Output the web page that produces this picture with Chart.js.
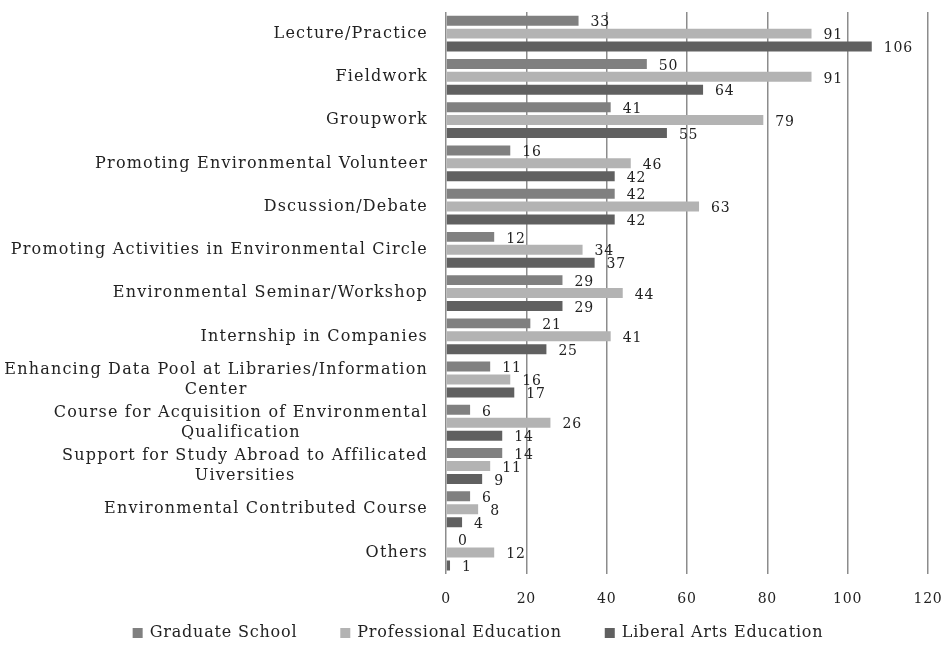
<!DOCTYPE html>
<html>
<head>
<meta charset="utf-8">
<script src="https://cdn.jsdelivr.net/npm/chart.js@4/dist/chart.umd.min.js"></script>
<style>
  html, body { margin: 0; padding: 0; background: #fff; }
</style>
</head>
<body>
<canvas id="chart" width="944" height="646"></canvas>
<script>
// Categories (multi-line labels as arrays)
var categorias = [
  "Lecture/Practice",
  "Fieldwork",
  "Groupwork",
  "Promoting Environmental Volunteer",
  "Dscussion/Debate",
  "Promoting Activities in Environmental Circle",
  "Environmental Seminar/Workshop",
  "Internship in Companies",
  ["Enhancing Data Pool at Libraries/Information", "Center"],
  ["Course for Acquisition of Environmental", "Qualification"],
  ["Support for Study Abroad to Affilicated", "Uiversities"],
  "Environmental Contributed Course",
  "Others"
];

// Series values
var graduateSchool = [33, 50, 41, 16, 42, 12, 29, 21, 11, 6, 14, 6, 0];
var professionalEducation = [91, 91, 79, 46, 63, 34, 44, 41, 16, 26, 11, 8, 12];
var liberalArtsEducation = [106, 64, 55, 42, 42, 37, 29, 25, 17, 14, 9, 4, 1];

// Axis ticks
var ticksX = [0, 20, 40, 60, 80, 100, 120];

var fuente = "'DejaVu Serif', 'Liberation Serif', serif";
var colorTexto = "#222";
var espaciado = "0.8px";

// Plugin: letter spacing for all canvas text (Century-like wide look)
var espaciadoLetras = {
  id: "espaciadoLetras",
  beforeUpdate: function (chart) { chart.ctx.letterSpacing = espaciado; },
  beforeLayout: function (chart) { chart.ctx.letterSpacing = espaciado; },
  beforeDraw: function (chart) { chart.ctx.letterSpacing = espaciado; }
};

// Plugin: category labels (right-aligned block, centered lines)
var etiquetasY = {
  id: "etiquetasY",
  afterDraw: function (chart) {
    var ctx = chart.ctx;
    var yScale = chart.scales.y;
    ctx.save();
    ctx.letterSpacing = "1.2px";
    ctx.font = "16px " + fuente;
    ctx.fillStyle = colorTexto;
    ctx.textAlign = "center";
    ctx.textBaseline = "middle";
    var derecha = chart.chartArea.left - 18;
    categorias.forEach(function (cat, i) {
      var lineas = Array.isArray(cat) ? cat : [cat];
      var ancho = 0;
      lineas.forEach(function (l) { ancho = Math.max(ancho, ctx.measureText(l).width); });
      var yc = yScale.getPixelForValue(i);
      var alto = 20;
      var y0 = yc - (lineas.length - 1) * alto / 2;
      lineas.forEach(function (l, j) {
        ctx.fillText(l, derecha - ancho / 2, y0 + j * alto);
      });
    });
    ctx.restore();
  }
};

// Plugin: value labels at bar ends
var etiquetasValor = {
  id: "etiquetasValor",
  afterDatasetsDraw: function (chart) {
    var ctx = chart.ctx;
    ctx.save();
    ctx.letterSpacing = espaciado;
    ctx.font = "14px " + fuente;
    ctx.fillStyle = colorTexto;
    ctx.textAlign = "left";
    ctx.textBaseline = "middle";
    chart.data.datasets.forEach(function (ds, d) {
      var meta = chart.getDatasetMeta(d);
      meta.data.forEach(function (bar, i) {
        ctx.fillText(String(ds.data[i]), bar.x + 12, bar.y + 2);
      });
    });
    ctx.restore();
  }
};

// Plugin: legend at the bottom (box + text, wide gaps)
var leyenda = {
  id: "leyenda",
  afterDraw: function (chart) {
    var ctx = chart.ctx;
    ctx.save();
    ctx.letterSpacing = espaciado;
    ctx.font = "16px " + fuente;
    ctx.textBaseline = "middle";
    ctx.textAlign = "left";
    var caja = 10, hueco = 7, separacion = 43;
    var items = chart.data.datasets.map(function (ds) {
      return { texto: ds.label, color: ds.backgroundColor, ancho: ctx.measureText(ds.label).width };
    });
    var total = 0;
    items.forEach(function (it, i) {
      total += caja + hueco + it.ancho + (i < items.length - 1 ? separacion : 0);
    });
    var x = 478 - total / 2;
    var y = 633;
    items.forEach(function (it) {
      ctx.fillStyle = it.color;
      ctx.fillRect(x, y - 5, caja, caja);
      ctx.fillStyle = colorTexto;
      ctx.fillText(it.texto, x + caja + hueco, y);
      x += caja + hueco + it.ancho + separacion;
    });
    ctx.restore();
  }
};

var ctx = document.getElementById("chart").getContext("2d");
var grafico = new Chart(ctx, {
  type: "bar",
  data: {
    labels: categorias,
    datasets: [
      { label: "Graduate School", data: graduateSchool, backgroundColor: "#808080" },
      { label: "Professional Education", data: professionalEducation, backgroundColor: "#b3b3b3" },
      { label: "Liberal Arts Education", data: liberalArtsEducation, backgroundColor: "#606060" }
    ]
  },
  options: {
    indexAxis: "y",
    responsive: false,
    animation: false,
    devicePixelRatio: 1,
    categoryPercentage: 0.9,
    barPercentage: 0.77,
    layout: {
      padding: { left: 0, right: 0, top: 12, bottom: 21 }
    },
    scales: {
      x: {
        min: 0,
        max: 120,
        afterBuildTicks: function (scale) {
          scale.ticks = ticksX.map(function (v) { return { value: v }; });
        },
        afterFit: function (scale) { scale.paddingRight = 16; },
        grid: { color: "#8c8c8c", lineWidth: 1.5, drawTicks: false },
        border: { display: false },
        ticks: { font: { family: fuente, size: 14 }, color: colorTexto, padding: 17 }
      },
      y: {
        afterFit: function (scale) { scale.width = 446; },
        ticks: { display: false },
        grid: { display: false },
        border: { display: false }
      }
    },
    plugins: {
      legend: { display: false },
      tooltip: { enabled: false }
    }
  },
  plugins: [espaciadoLetras, etiquetasY, etiquetasValor, leyenda]
});
</script>
</body>
</html>
